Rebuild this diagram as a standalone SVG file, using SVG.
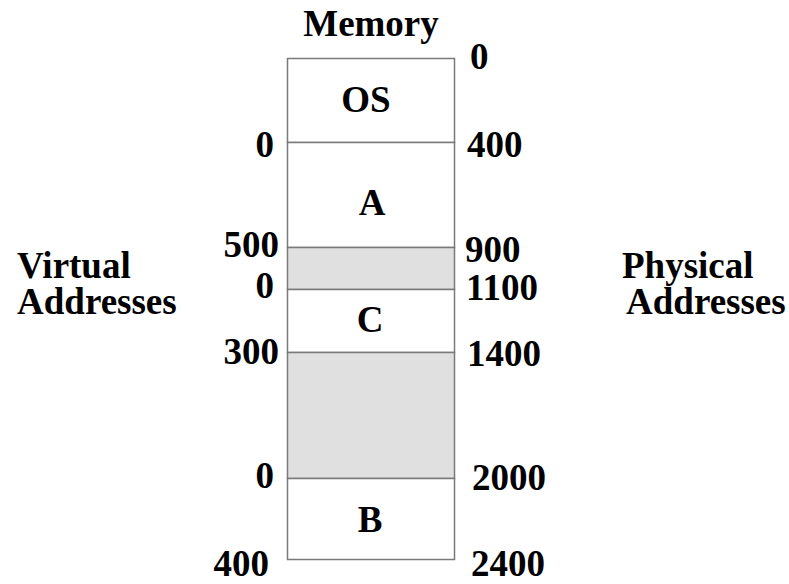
<svg xmlns="http://www.w3.org/2000/svg" width="789" height="584" viewBox="0 0 789 584">
<style>
text{font-family:"Liberation Serif","Times New Roman",serif;font-weight:bold;font-size:37px;fill:#000}
.m{text-anchor:middle}
.r{text-anchor:end}
.seg{stroke:#7a7a7a;stroke-width:1.5}
.w{fill:#fff}
.g{fill:#e0e0e0}
</style>
<rect width="789" height="584" fill="#fff"/>
<text class="m" x="371" y="36">Memory</text>
<g id="os"><rect class="seg w" x="287.5" y="58.5" width="167" height="84"/><text class="m" x="366" y="112">OS</text></g>
<g id="a"><rect class="seg w" x="287.5" y="142.5" width="167" height="105"/><text class="m" x="372" y="215">A</text></g>
<g id="gap1"><rect class="seg g" x="287.5" y="247.5" width="167" height="42"/></g>
<g id="c"><rect class="seg w" x="287.5" y="289.5" width="167" height="63"/><text class="m" x="370" y="332">C</text></g>
<g id="gap2"><rect class="seg g" x="287.5" y="352.5" width="167" height="126"/></g>
<g id="b"><rect class="seg w" x="287.5" y="478.5" width="167" height="81"/><text class="m" x="370" y="532">B</text></g>
<g id="connectors"></g>
<g id="phys">
<text x="470" y="69">0</text>
<text x="467" y="157">400</text>
<text x="465" y="262">900</text>
<text x="466" y="300">1100</text>
<text x="467" y="366">1400</text>
<text x="472" y="490">2000</text>
<text x="471" y="576">2400</text>
</g>
<g id="virt">
<text class="r" x="274" y="157">0</text>
<text class="r" x="279" y="257">500</text>
<text class="r" x="274" y="298">0</text>
<text class="r" x="279" y="364">300</text>
<text class="r" x="274" y="488">0</text>
<text class="r" x="269" y="576">400</text>
</g>
<text x="17" y="278">Virtual</text>
<text x="17" y="314">Addresses</text>
<text x="622" y="278">Physical</text>
<text x="626" y="314">Addresses</text>
</svg>
